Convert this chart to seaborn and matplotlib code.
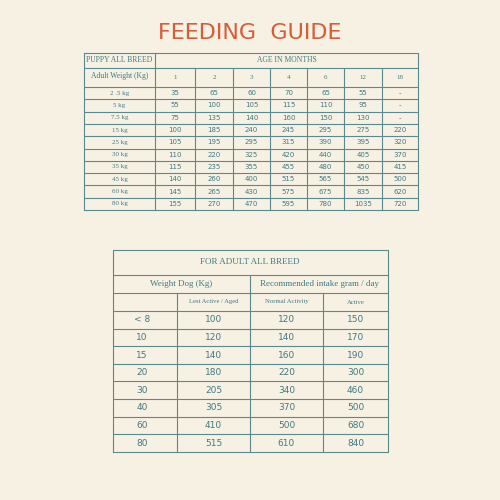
import matplotlib
matplotlib.use("Agg")
import matplotlib.pyplot as plt
import seaborn as sns

sns.set_theme(style="white")
plt.rcParams['font.family'] = ['DejaVu Sans']

title = "FEEDING  GUIDE"
puppy_header = "PUPPY ALL BREED"
age_header = "AGE IN MONTHS"
weight_header = "Adult Weight (Kg)"
ages = ["1", "2", "3", "4", "6", "12", "18"]
puppy_weights = ["2 .5 kg", "5 kg", "7.5 kg", "15 kg", "25 kg", "30 kg", "35 kg", "45 kg", "60 kg", "80 kg"]
puppy_values = [
    ["35", "65", "60", "70", "65", "55", "-"],
    ["55", "100", "105", "115", "110", "95", "-"],
    ["75", "135", "140", "160", "150", "130", "-"],
    ["100", "185", "240", "245", "295", "275", "220"],
    ["105", "195", "295", "315", "390", "395", "320"],
    ["110", "220", "325", "420", "440", "405", "370"],
    ["115", "235", "355", "455", "480", "450", "415"],
    ["140", "260", "400", "515", "565", "545", "500"],
    ["145", "265", "430", "575", "675", "835", "620"],
    ["155", "270", "470", "595", "780", "1035", "720"],
]
adult_title = "FOR ADULT ALL BREED"
adult_h1 = ["Weight Dog (Kg)", "Recommended intake gram / day"]
adult_h2 = ["", "Lest Active / Aged", "Normal Activity", "Active"]
adult_weights = ["< 8", "10", "15", "20", "30", "40", "60", "80"]
less_active = [100, 120, 140, 180, 205, 305, 410, 515]
normal = [120, 140, 160, 220, 340, 370, 500, 610]
active = [150, 170, 190, 300, 460, 500, 680, 840]

BG = "#F7F1E3"
LC = "#5A8A90"
TC = "#3F7A84"
SERIF = "Liberation Serif"

fig = plt.figure(figsize=(5, 5), dpi=100, facecolor=BG)
ax = fig.add_axes([0, 0, 1, 1])
ax.set_facecolor(BG)
ax.set_xlim(0, 500)
ax.set_ylim(500, 0)
ax.axis("off")

def hl(y, x0, x1):
    ax.plot([x0, x1], [y, y], color=LC, lw=0.8)
def vl(x, y0, y1):
    ax.plot([x, x], [y0, y1], color=LC, lw=0.8)

ax.text(250, 33, title, ha="center", va="center", fontsize=16, color="#D95C38",
        family="DejaVu Sans")

# Puppy table
cx = [84, 155, 195, 233, 270, 307, 344, 382, 418]
top, h1, h2 = 53, 68, 87
rh = 12.3
bottom = h2 + rh * len(puppy_weights)
for x in [cx[0], cx[1], cx[-1]]:
    vl(x, top, bottom)
for x in cx[2:-1]:
    vl(x, h1, bottom)
hl(top, cx[0], cx[-1]); hl(h1, cx[0], cx[-1]); hl(h2, cx[0], cx[-1])
for i in range(len(puppy_weights)):
    hl(h2 + rh * (i + 1), cx[0], cx[-1])
ax.text((cx[0] + cx[1]) / 2, (top + h1) / 2, puppy_header, ha="center", va="center", fontsize=5.5, color=TC, family=SERIF)
ax.text((cx[1] + cx[-1]) / 2, (top + h1) / 2, age_header, ha="center", va="center", fontsize=5.5, color=TC, family=SERIF)
ax.text((cx[0] + cx[1]) / 2, (h1 + h2) / 2 - 2, weight_header, ha="center", va="center", fontsize=5.5, color=TC, family=SERIF)
for j, a in enumerate(ages):
    ax.text((cx[j + 1] + cx[j + 2]) / 2, (h1 + h2) / 2, a, ha="center", va="center", fontsize=5, color=TC, family=SERIF)
for i, w in enumerate(puppy_weights):
    yc = h2 + rh * (i + 0.5)
    ax.text((cx[0] + cx[1]) / 2, yc, w, ha="center", va="center", fontsize=5, color=TC, family=SERIF)
    for j, v in enumerate(puppy_values[i]):
        ax.text((cx[j + 1] + cx[j + 2]) / 2, yc, v, ha="center", va="center", fontsize=5, color=TC)

# Adult table
ax2 = [113, 177, 250, 323, 388]
t, r1, r2, r3 = 250, 275, 293, 311
rh2 = 17.6
b2 = r3 + rh2 * len(adult_weights)
vl(ax2[0], t, b2); vl(ax2[-1], t, b2); vl(ax2[2], r1, b2)
vl(ax2[1], r2, b2); vl(ax2[3], r2, b2)
for y in [t, r1, r2, r3]:
    hl(y, ax2[0], ax2[-1])
for i in range(len(adult_weights)):
    hl(r3 + rh2 * (i + 1), ax2[0], ax2[-1])
ax.text(250, (t + r1) / 2, adult_title, ha="center", va="center", fontsize=6.5, color=TC, family=SERIF)
ax.text((ax2[0] + ax2[2]) / 2, (r1 + r2) / 2, adult_h1[0], ha="center", va="center", fontsize=6.5, color=TC, family=SERIF)
ax.text((ax2[2] + ax2[4]) / 2, (r1 + r2) / 2, adult_h1[1], ha="center", va="center", fontsize=6.5, color=TC, family=SERIF)
for j, hname in enumerate(adult_h2):
    ax.text((ax2[j] + ax2[j + 1]) / 2, (r2 + r3) / 2, hname, ha="center", va="center", fontsize=4.8, color=TC, family=SERIF)
for i, w in enumerate(adult_weights):
    yc = r3 + rh2 * (i + 0.5)
    ax.text((ax2[0] + ax2[1]) / 2 - 3, yc, w, ha="center", va="center", fontsize=6.5, color=TC)
    for j, v in enumerate([less_active[i], normal[i], active[i]]):
        ax.text((ax2[j + 1] + ax2[j + 2]) / 2, yc, str(v), ha="center", va="center", fontsize=6.5, color=TC)

fig.savefig("out.png", dpi=100, facecolor=BG)
